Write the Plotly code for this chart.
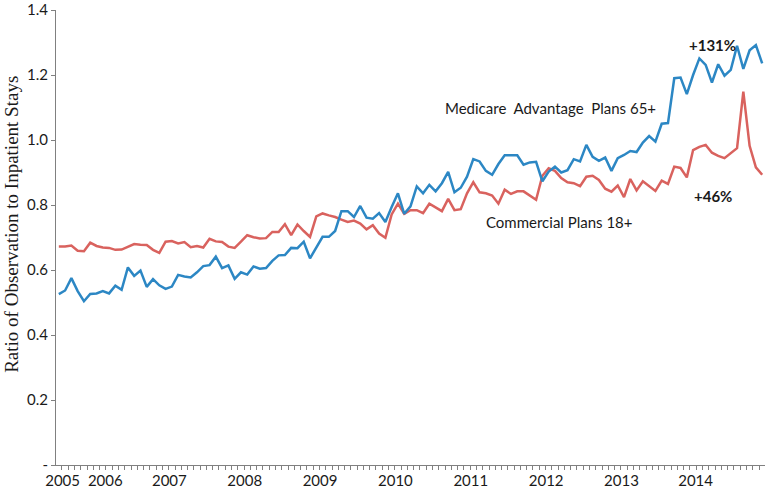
import plotly.graph_objects as go

# Monthly observations, July 2005 .. November 2014 (113 months)
medicare_advantage_65 = [
    0.526, 0.537, 0.575, 0.535, 0.504, 0.526, 0.528, 0.535, 0.528, 0.552,
    0.539, 0.608, 0.582, 0.598, 0.548, 0.572, 0.553, 0.542, 0.549, 0.585,
    0.580, 0.577, 0.593, 0.612, 0.615, 0.641, 0.606, 0.614, 0.573, 0.593,
    0.586, 0.611, 0.604, 0.606, 0.628, 0.645, 0.646, 0.668, 0.667, 0.687,
    0.636, 0.667, 0.702, 0.702, 0.720, 0.781, 0.781, 0.763, 0.797, 0.761,
    0.758, 0.775, 0.748, 0.794, 0.836, 0.773, 0.796, 0.857, 0.836, 0.862,
    0.842, 0.867, 0.902, 0.839, 0.853, 0.887, 0.941, 0.934, 0.905, 0.893,
    0.926, 0.953, 0.953, 0.953, 0.924, 0.931, 0.933, 0.873, 0.903, 0.918,
    0.900, 0.907, 0.941, 0.934, 0.985, 0.948, 0.936, 0.946, 0.905, 0.944,
    0.954, 0.966, 0.963, 0.992, 1.012, 0.995, 1.050, 1.052, 1.190, 1.192,
    1.141, 1.200, 1.251, 1.231, 1.177, 1.233, 1.198, 1.216, 1.290, 1.219,
    1.276, 1.292, 1.236,
]

commercial_18 = [
    0.672, 0.672, 0.675, 0.659, 0.658, 0.684, 0.674, 0.669, 0.668, 0.662,
    0.663, 0.672, 0.680, 0.678, 0.677, 0.662, 0.653, 0.687, 0.689, 0.682,
    0.686, 0.670, 0.674, 0.669, 0.696, 0.688, 0.686, 0.672, 0.668, 0.687,
    0.707, 0.701, 0.697, 0.698, 0.717, 0.717, 0.741, 0.707, 0.740, 0.720,
    0.702, 0.765, 0.774, 0.768, 0.763, 0.755, 0.748, 0.752, 0.743, 0.725,
    0.738, 0.712, 0.699, 0.771, 0.804, 0.773, 0.784, 0.784, 0.775, 0.804,
    0.792, 0.781, 0.819, 0.784, 0.787, 0.836, 0.870, 0.839, 0.836, 0.829,
    0.804, 0.847, 0.834, 0.842, 0.842, 0.829, 0.816, 0.890, 0.913, 0.905,
    0.883, 0.870, 0.867, 0.858, 0.887, 0.890, 0.877, 0.850, 0.841, 0.860,
    0.824, 0.880, 0.845, 0.873, 0.857, 0.843, 0.875, 0.865, 0.918, 0.914,
    0.885, 0.969, 0.979, 0.985, 0.961, 0.951, 0.944, 0.961, 0.975, 1.149,
    0.982, 0.916, 0.893,
]

month_index = list(range(len(medicare_advantage_65)))

year_labels = ["2005", "2006", "2007", "2008", "2009", "2010", "2011", "2012", "2013", "2014"]
year_label_pos = [0.6, 7.4, 17.6, 29.6, 41.6, 53.6, 65.6, 77.6, 89.6, 101.4]

y_tick_vals = [0, 0.2, 0.4, 0.6, 0.8, 1.0, 1.2, 1.4]
y_tick_text = ["-", "0.2", "0.4", "0.6", "0.8", "1.0", "1.2", "1.4"]

BLUE = "#2c87c4"
RED = "#d9625e"
AXIS = "#808080"
TXT = "#1a1a1a"
SANS = "Lato, 'Open Sans', sans-serif"

fig = go.Figure()
fig.add_trace(go.Scatter(x=month_index, y=commercial_18, mode="lines",
                         line=dict(color=RED, width=2.5), name="Commercial Plans 18+"))
fig.add_trace(go.Scatter(x=month_index, y=medicare_advantage_65, mode="lines",
                         line=dict(color=BLUE, width=2.5), name="Medicare Advantage Plans 65+"))

fig.update_layout(
    width=765, height=489,
    margin=dict(l=56, r=0, t=8, b=22),
    paper_bgcolor="white", plot_bgcolor="white",
    showlegend=False,
    font=dict(family=SANS, size=15, color=TXT),
    xaxis=dict(
        range=[-0.45, 112.45], showgrid=False, zeroline=False,
        showline=True, linecolor=AXIS, linewidth=1,
        tickmode="array", tickvals=year_label_pos, ticktext=year_labels,
        ticks="outside", ticklen=2, tickcolor="rgba(0,0,0,0)",
        tickfont=dict(family=SANS, size=15, color=TXT),
        minor=dict(ticks="outside", tick0=-0.5, dtick=1, ticklen=4,
                   tickcolor=AXIS, tickwidth=1, showgrid=False),
    ),
    yaxis=dict(
        range=[0, 1.4], showgrid=False, zeroline=False,
        showline=True, linecolor=AXIS, linewidth=1,
        tickmode="array", tickvals=y_tick_vals, ticktext=y_tick_text,
        ticks="outside", ticklen=4, tickcolor=AXIS,
        tickfont=dict(family=SANS, size=15, color=TXT),
        ticklabeloverflow="allow",
    ),
)

fig.add_annotation(text="Ratio of Observation to Inpatient Stays", xref="paper", yref="paper",
                   x=-0.062, y=0.528, xanchor="center", yanchor="middle", textangle=-90,
                   showarrow=False, font=dict(family="'Liberation Serif', 'Times New Roman', serif",
                                              size=19, color=TXT))
fig.add_annotation(text="Medicare  Advantage  Plans 65+", x=78.3, y=1.098, showarrow=False,
                   xanchor="center", yanchor="middle", font=dict(family=SANS, size=15, color=TXT))
fig.add_annotation(text="Commercial Plans 18+", x=79.7, y=0.747, showarrow=False,
                   xanchor="center", yanchor="middle", font=dict(family=SANS, size=15, color=TXT))
fig.add_annotation(text="<b>+131%</b>", x=104.1, y=1.293, showarrow=False,
                   xanchor="center", yanchor="middle", font=dict(family=SANS, size=15, color=TXT))
fig.add_annotation(text="<b>+46%</b>", x=104.1, y=0.829, showarrow=False,
                   xanchor="center", yanchor="middle", font=dict(family=SANS, size=15, color=TXT))

fig.write_html("out.html",
               config={"displayModeBar": False},
               post_script="document.body.style.margin='0';document.body.style.overflow='hidden';")
